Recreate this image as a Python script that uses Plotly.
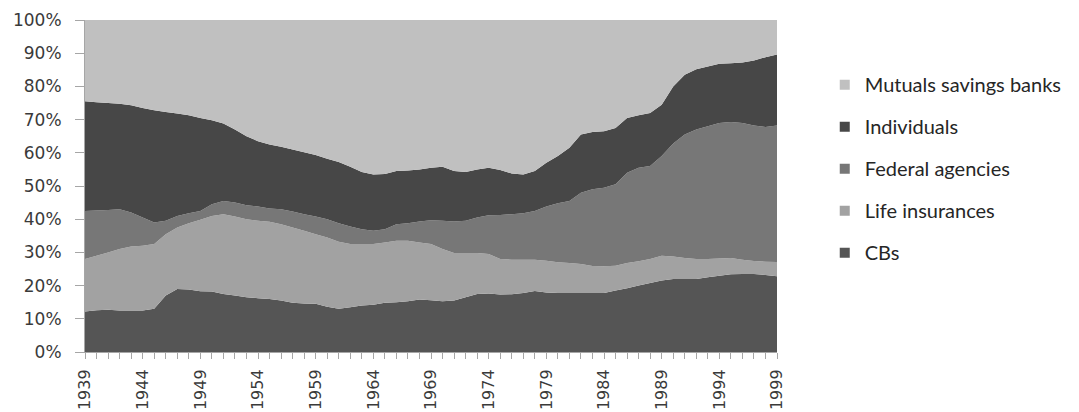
import plotly.graph_objects as go

years = list(range(1939, 2000))

cbs = [12.2, 12.6, 12.7, 12.5, 12.5, 12.5, 13.0, 17.0, 19.0, 18.8,
       18.3, 18.2, 17.5, 17.0, 16.5, 16.2, 16.0, 15.5, 14.8, 14.6,
       14.5, 13.6, 13.0, 13.5, 14.0, 14.2, 14.8, 15.0, 15.3, 15.8,
       15.6, 15.3, 15.5, 16.5, 17.5, 17.6, 17.3, 17.4, 17.8, 18.4,
       17.9, 17.8, 17.8, 17.8, 17.8, 17.8, 18.5, 19.2, 20.0, 20.8,
       21.5, 22.0, 22.0, 22.0, 22.5, 23.0, 23.4, 23.5, 23.5, 23.2,
       22.8]
life = [15.8, 16.4, 17.3, 18.5, 19.3, 19.5, 19.5, 18.5, 18.5, 20.0,
        21.5, 22.8, 24.0, 23.8, 23.5, 23.3, 23.2, 23.0, 22.7, 21.9,
        21.0, 20.9, 20.2, 19.0, 18.5, 18.3, 18.2, 18.5, 18.2, 17.2,
        16.9, 15.7, 14.3, 13.3, 12.3, 11.9, 10.7, 10.4, 10.0, 9.4,
        9.6, 9.2, 9.0, 8.7, 8.1, 8.0, 7.5, 7.6, 7.3, 7.2,
        7.5, 6.8, 6.3, 6.0, 5.5, 5.2, 4.9, 4.3, 3.9, 4.0,
        4.3]
federal = [14.5, 13.6, 12.8, 12.0, 10.2, 8.5, 6.5, 4.0, 3.5, 3.0,
           2.7, 3.5, 4.0, 4.2, 4.2, 4.3, 4.0, 4.5, 4.8, 5.0,
           5.3, 5.5, 5.6, 5.3, 4.5, 4.0, 4.0, 5.0, 5.3, 6.3,
           7.2, 8.5, 9.5, 9.7, 10.7, 11.7, 13.3, 13.7, 14.0, 14.7,
           16.3, 17.8, 18.7, 21.5, 23.1, 23.7, 24.5, 27.2, 28.2, 28.0,
           30.0, 34.0, 37.2, 39.0, 40.0, 40.8, 41.0, 41.2, 40.8, 40.6,
           41.1]
individuals = [33.0, 32.6, 32.2, 31.8, 32.3, 33.0, 33.8, 32.8, 30.8, 29.5,
               28.0, 25.3, 23.3, 22.0, 20.8, 19.7, 19.3, 18.8, 18.7, 18.7,
               18.5, 18.2, 18.4, 18.0, 17.2, 17.0, 16.6, 16.0, 15.9, 15.7,
               15.8, 16.3, 15.2, 14.7, 14.5, 14.3, 13.5, 12.3, 11.7, 12.0,
               13.2, 14.2, 16.0, 17.5, 17.3, 17.0, 17.0, 16.5, 15.8, 16.0,
               15.5, 17.2, 18.0, 18.2, 18.0, 17.8, 17.7, 18.2, 19.6, 21.0,
               21.4]
mutuals = [24.5, 24.8, 25.0, 25.2, 25.7, 26.5, 27.2, 27.7, 28.2, 28.7,
           29.5, 30.2, 31.2, 33.0, 35.0, 36.5, 37.5, 38.2, 39.0, 39.8,
           40.7, 41.8, 42.8, 44.2, 45.8, 46.5, 46.4, 45.5, 45.3, 45.0,
           44.5, 44.2, 45.5, 45.8, 45.0, 44.5, 45.2, 46.2, 46.5, 45.5,
           43.0, 41.0, 38.5, 34.5, 33.7, 33.5, 32.5, 29.5, 28.7, 28.0,
           25.5, 20.0, 16.5, 14.8, 14.0, 13.2, 13.0, 12.8, 12.2, 11.2,
           10.4]

series = [
    ("CBs", cbs, "#555555"),
    ("Life insurances", life, "#a2a2a2"),
    ("Federal agencies", federal, "#777777"),
    ("Individuals", individuals, "#474747"),
    ("Mutuals savings banks", mutuals, "#c0c0c0"),
]

tick_years = list(range(1939, 2000, 5))
y_ticks = list(range(0, 101, 10))
y_labels = [f"{v}%" for v in y_ticks]

fig = go.Figure()
n = len(series)
for i, (name, vals, col) in enumerate(series):
    fig.add_trace(go.Scatter(
        x=years, y=vals, name=name, mode="none",
        stackgroup="one", groupnorm="percent",
        fillcolor=col, line=dict(width=0),
        showlegend=False,
    ))
# legend entries with square swatches
for i, (name, vals, col) in enumerate(series):
    fig.add_trace(go.Scatter(
        x=[None], y=[None], name=name, mode="markers",
        marker=dict(symbol="square", size=10, color=col),
        legendgroup=name, legendrank=n - i, showlegend=True,
    ))

axis_col = "#a6a6a6"
fig.update_layout(
    width=1071, height=404,
    margin=dict(l=77, r=300, t=12, b=60),
    paper_bgcolor="white", plot_bgcolor="white",
    font=dict(family="DejaVu Sans, sans-serif", size=17, color="#404040"),
    showlegend=True,
    legend=dict(
        traceorder="grouped", tracegroupgap=13,
        x=1.069, xanchor="left", y=0.864, yanchor="top",
        itemwidth=30,
        font=dict(family="Lato, sans-serif", size=20, color="#262626"),
        bgcolor="rgba(0,0,0,0)",
    ),
    xaxis=dict(
        range=[1939, 1999], tickmode="array", tickvals=tick_years,
        ticktext=[str(y) for y in tick_years], tickangle=-90,
        showgrid=False, zeroline=False, automargin=False,
        showline=True, linecolor=axis_col, linewidth=1,
        ticks="outside", ticklen=6, tickcolor=axis_col,
        ticklabelstandoff=4,
        minor=dict(dtick=1, tick0=1939, ticks="outside", ticklen=6, tickcolor=axis_col, showgrid=False),
        tickfont=dict(family="DejaVu Sans, sans-serif", size=16, color="#3a3a3a"),
    ),
    yaxis=dict(
        range=[0, 100], tickmode="array", tickvals=y_ticks, ticktext=y_labels,
        showgrid=False, zeroline=False, automargin=False,
        showline=True, linecolor=axis_col, linewidth=1,
        ticks="outside", ticklen=9, tickcolor=axis_col,
        ticklabelstandoff=10,
        tickfont=dict(family="DejaVu Sans, sans-serif", size=17, color="#3a3a3a"),
    ),
)

fig.write_html("out.html")
